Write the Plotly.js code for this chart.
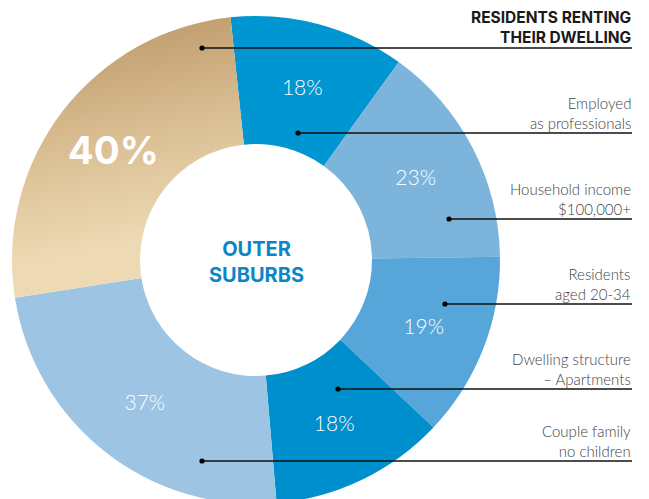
<!DOCTYPE html>
<html>
<head>
<meta charset="utf-8">
<script src="https://cdn.plot.ly/plotly-3.0.1.min.js"></script>
<style>
html,body{margin:0;padding:0;overflow:hidden;background:#fff;}
#chart{width:649px;height:520px;}
</style>
</head>
<body>
<div id="chart"></div>
<script>
// ---- data ----
const categories = [
  "Employed as professionals",
  "Household income $100,000+",
  "Residents aged 20-34",
  "Dwelling structure – Apartments",
  "Couple family no children",
  "Residents renting their dwelling"
];
const values = [18, 23, 19, 18, 37, 40];
const calloutLabels = [
  "Employed<br>as professionals",
  "Household income<br>$100,000+",
  "Residents<br>aged 20-34",
  "Dwelling structure<br>– Apartments",
  "Couple family<br>no children",
  "<b>RESIDENTS RENTING<br>THEIR DWELLING</b>"
];
const centerLabel = "OUTER<br>SUBURBS";

// ---- styling ----
const sliceColors = ["#0096d1", "#7db4dc", "#56a6d9", "#008fcd", "#9dc4e3", "#d9bd8f"];
const W = 649, H = 520;
const X = px => px / W;
const Y = py => 1 - py / H;
const cx = 256, cy = 260, R = 244, r = 116;

// callout geometry (pixels): dot x, line y
const dotX = [298, 449, 445, 338, 202, 202];
const lineY = [133, 219, 304, 389, 461, 48];
const lineEnd = 632;

const trace = {
  type: "pie",
  labels: categories,
  values: values,
  sort: false,
  direction: "clockwise",
  rotation: -6,
  hole: r / R,
  domain: {x: [X(cx - R), X(cx + R)], y: [Y(cy + R), Y(cy - R)]},
  marker: {colors: sliceColors, line: {width: 0}},
  texttemplate: "%{value}%",
  textposition: "inside",
  insidetextorientation: "horizontal",
  textfont: {
    color: "#ffffff",
    family: ["Lato", "Lato", "Lato", "Lato", "Lato", "Inter"],
    size: [21, 21, 21, 21, 21, 38.5],
    weight: [300, 300, 300, 300, 300, 700]
  },
  hoverinfo: "none",
  showlegend: false
};

const shapes = [];
const annotations = [];
for (let i = 0; i < categories.length; i++) {
  shapes.push({type: "line", xref: "paper", yref: "paper",
    x0: X(dotX[i]), x1: X(lineEnd), y0: Y(lineY[i]), y1: Y(lineY[i]),
    line: {color: "#111111", width: 1.5}});
  shapes.push({type: "circle", xref: "paper", yref: "paper",
    x0: X(dotX[i] - 2.6), x1: X(dotX[i] + 2.6), y0: Y(lineY[i] + 2.6), y1: Y(lineY[i] - 2.6),
    fillcolor: "#000000", line: {width: 0}});
  const bold = i === 5;
  annotations.push({
    xref: "paper", yref: "paper",
    x: X(lineEnd + 1), y: Y(lineY[i] - 20.5),
    xanchor: "right", yanchor: "middle", align: "right",
    showarrow: false,
    text: calloutLabels[i],
    font: bold ? {family: "Inter, Lato, sans-serif", size: 15.5, color: "#1a1a1a", weight: 700}
               : {family: "Lato, sans-serif", size: 15, color: "#444444", weight: 300}
  });
}
annotations.push({
  xref: "paper", yref: "paper", x: X(cx), y: Y(cy + 2),
  xanchor: "center", yanchor: "middle", align: "center", showarrow: false,
  text: "<b>" + centerLabel + "</b>",
  font: {family: "Inter, Lato, sans-serif", size: 20, color: "#0a86c8", weight: 700}
});

const layout = {
  width: W, height: H,
  margin: {l: 0, r: 0, t: 0, b: 0},
  paper_bgcolor: "#ffffff",
  showlegend: false,
  shapes: shapes,
  annotations: annotations
};

Plotly.newPlot("chart", [trace], layout, {displayModeBar: false, staticPlot: true}).then(gd => {
  const svgNS = "http://www.w3.org/2000/svg";
  const svg = gd.querySelector("svg.main-svg");
  let defs = svg.querySelector("defs");
  if (!defs) { defs = document.createElementNS(svgNS, "defs"); svg.insertBefore(defs, svg.firstChild); }
  const g = document.createElementNS(svgNS, "linearGradient");
  g.setAttribute("id", "goldgrad");
  g.setAttribute("x1", "0.50"); g.setAttribute("y1", "0.08");
  g.setAttribute("x2", "0.62"); g.setAttribute("y2", "0.78");
  [["0", "#c3a172"], ["0.45", "#d9bd92"], ["1", "#edd9b3"]].forEach(([o, c]) => {
    const s = document.createElementNS(svgNS, "stop");
    s.setAttribute("offset", o); s.setAttribute("stop-color", c);
    g.appendChild(s);
  });
  defs.appendChild(g);
  const slices = gd.querySelectorAll("g.slice path.surface");
  if (slices.length === values.length) {
    slices[values.length - 1].style.fill = "url(#goldgrad)";
  }
});
</script>
</body>
</html>
